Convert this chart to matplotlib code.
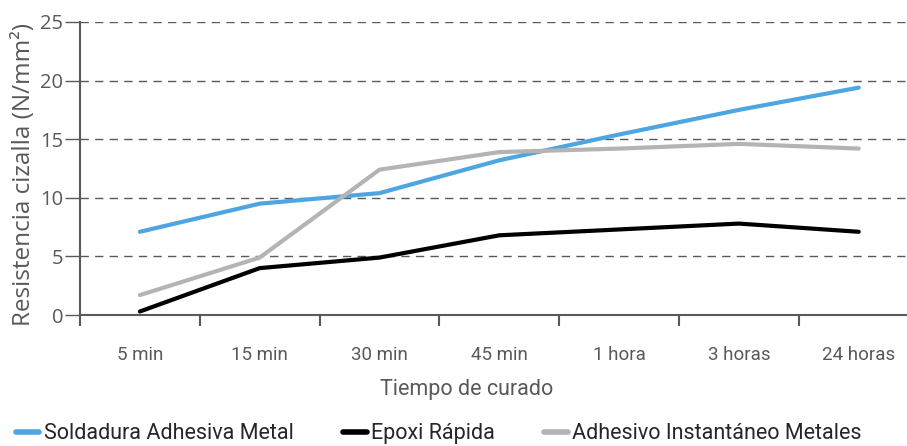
import numpy as np
import matplotlib.pyplot as plt
from matplotlib.lines import Line2D

categorias = ['5 min', '15 min', '30 min', '45 min', '1 hora', '3 horas', '24 horas']
soldadura = [7.1, 9.5, 10.4, 13.2, 15.4, 17.5, 19.4]
epoxi = [0.3, 4.0, 4.9, 6.8, 7.3, 7.8, 7.1]
instantaneo = [1.7, 4.9, 12.4, 13.9, 14.2, 14.6, 14.2]
nombres = ['Soldadura Adhesiva Metal', 'Epoxi Rápida', 'Adhesivo Instantáneo Metales']
colores = ['#4DA6E1', '#000000', '#B4B4B4']

gris = '#595959'
estrecha = ['Roboto', 'DejaVu Sans']
normal = ['Open Sans', 'DejaVu Sans']

fig = plt.figure(figsize=(9.07, 4.46), dpi=100)
ax = fig.add_axes([0.0882, 0.2937, 0.9246, 0.657])

x = np.arange(len(categorias))
for serie, color in zip([soldadura, epoxi, instantaneo], colores):
    ax.plot(x, serie, color=color, lw=3.0, solid_capstyle='round', solid_joinstyle='round', zorder=3)

ax.set_xlim(-0.5, len(categorias) - 0.5)
ax.set_ylim(0, 25)
ax.set_yticks([0, 5, 10, 15, 20, 25])
ax.yaxis.grid(True, linestyle=(0, (6, 4.5)), color=gris, lw=1)
ax.set_axisbelow(True)

ax.set_xticks(x)
ax.set_xticklabels(categorias, family=estrecha, fontsize=13.5, color=gris)
ax.set_xticks(np.arange(-0.5, len(categorias)), minor=True)
ax.tick_params(axis='x', which='major', length=0, pad=22)
ax.tick_params(axis='x', which='minor', length=8, width=1.5, color=gris)
ax.tick_params(axis='y', length=11, width=1, color=gris, labelcolor=gris, labelsize=14.5, pad=1)
for lab in ax.get_yticklabels():
    lab.set_family(normal)

for lado in ['top', 'right']:
    ax.spines[lado].set_visible(False)
for lado in ['left', 'bottom']:
    ax.spines[lado].set_color(gris)
    ax.spines[lado].set_linewidth(1.5)

ax.set_xlabel('Tiempo de curado', family=estrecha, fontsize=15.5, color=gris)
ax.xaxis.set_label_coords(0.4615, -0.22)
ax.set_ylabel('Resistencia cizalla (N/mm²)', family=normal, fontsize=17.5, color=gris)
ax.yaxis.set_label_coords(-0.053, 0.48)

manijas = [Line2D([0], [0], color=c, lw=4, solid_capstyle='round') for c in colores]
leg = fig.legend(manijas, nombres, loc='lower left', bbox_to_anchor=(-0.004, -0.04), ncol=3,
                 frameon=False, handlelength=1.1, handletextpad=0.2, columnspacing=2.3,
                 prop={'family': estrecha, 'size': 15.5})
for t in leg.get_texts():
    t.set_color('#262626')

fig.savefig('out.png', dpi=100, facecolor='white')
